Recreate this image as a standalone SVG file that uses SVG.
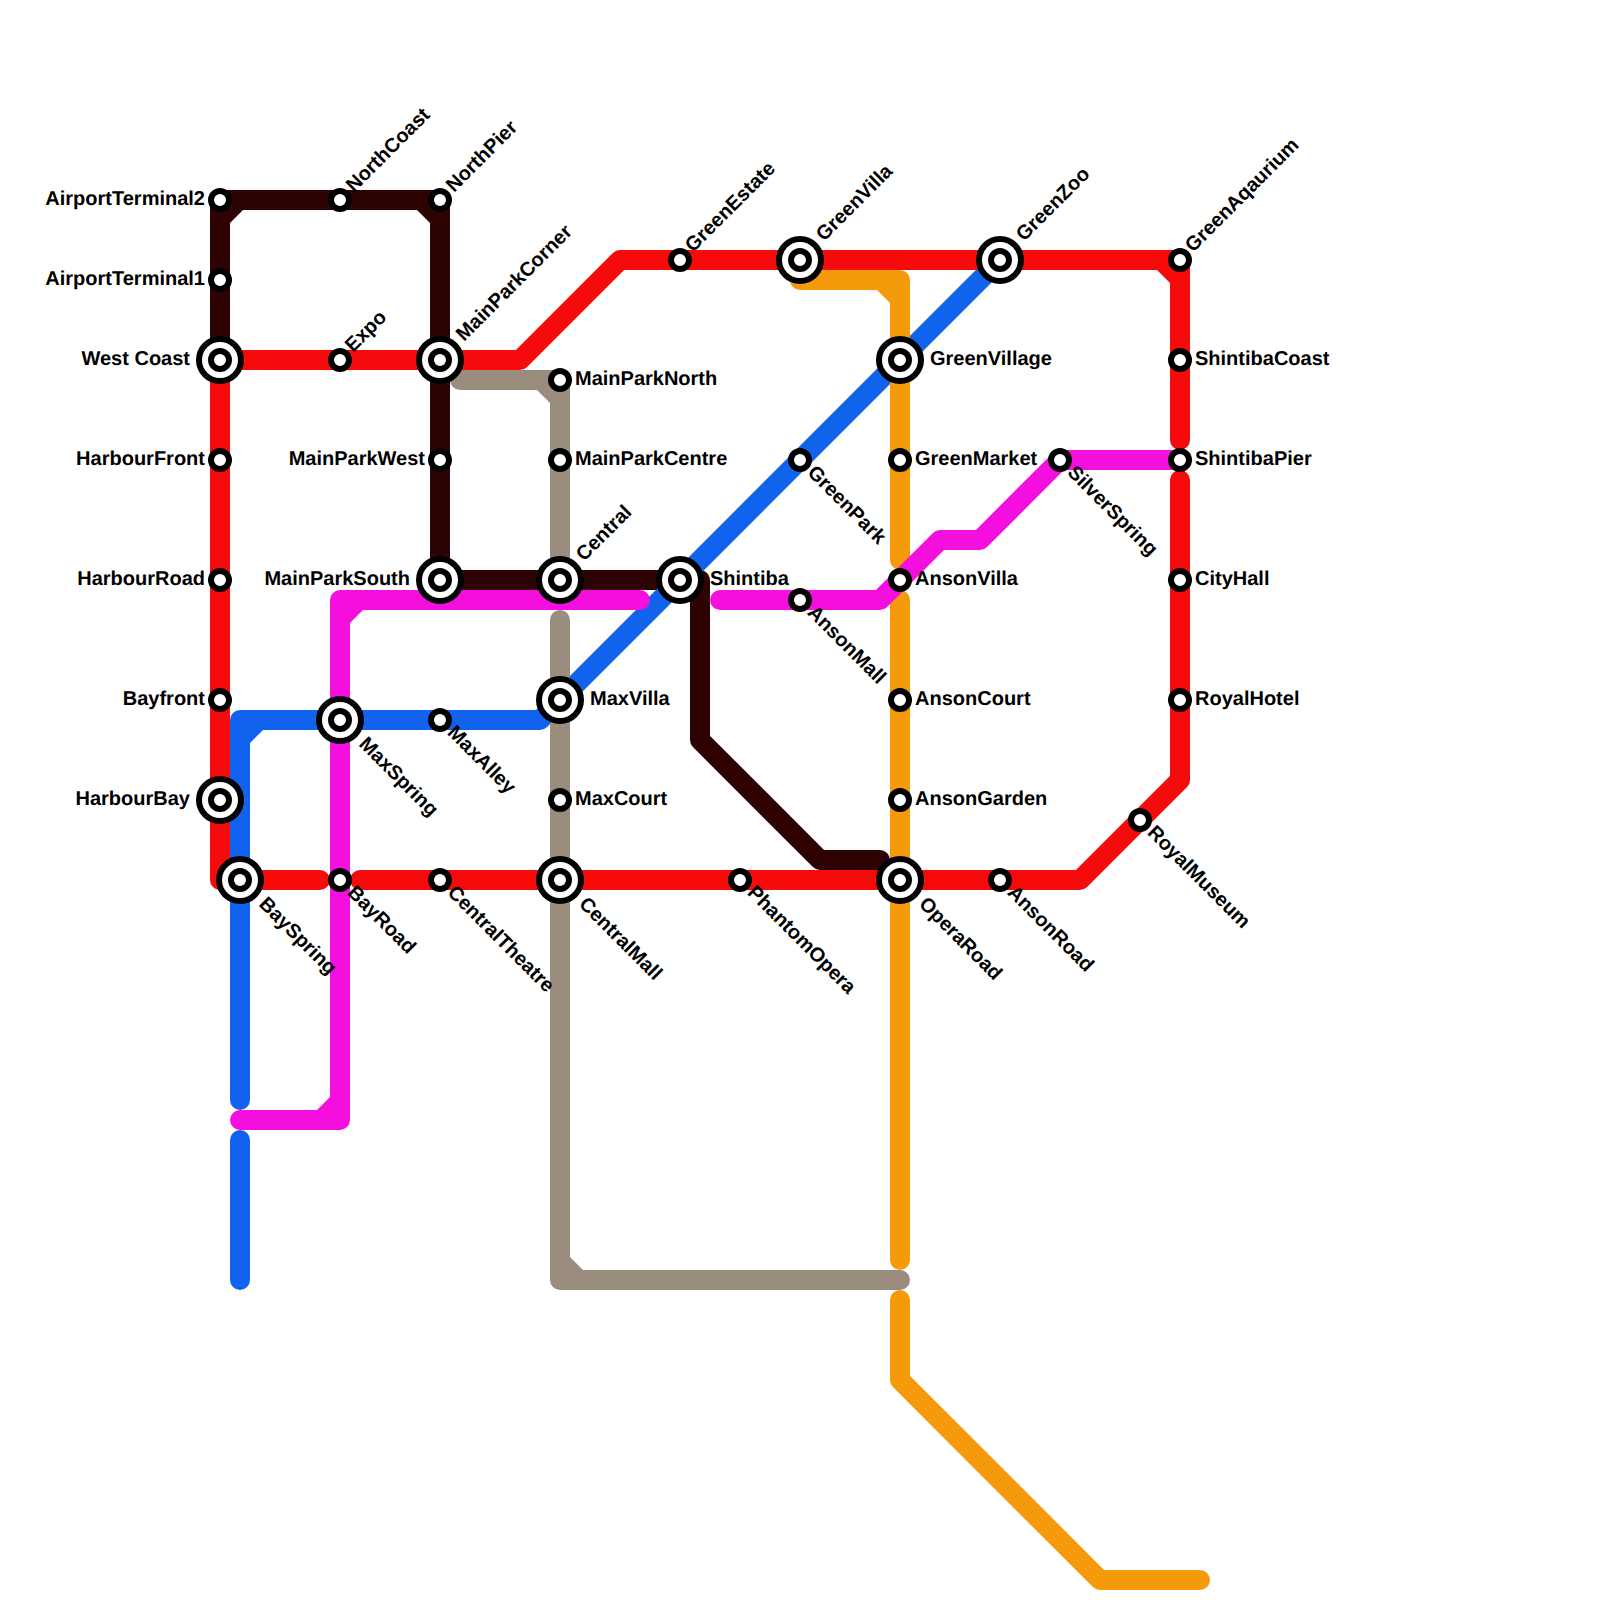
<svg xmlns="http://www.w3.org/2000/svg" width="1600" height="1600" viewBox="0 0 1600 1600">
<style>
.l{fill:none;stroke-width:20;stroke-linecap:round;stroke-linejoin:round}
.dk{stroke:#2e0303}.rd{stroke:#f50b0b}.bl{stroke:#1163ee}.mg{stroke:#f50fde}.gr{stroke:#9b8d7d}.or{stroke:#f59b0b}
.cdk{fill:#2e0303}.crd{fill:#f50b0b}.cbl{fill:#1163ee}.cmg{fill:#f50fde}.cgr{fill:#9b8d7d}.cor{fill:#f59b0b}
.o{fill:#fff;stroke:#000;stroke-width:6}
text{font-family:"Liberation Sans",Arial,sans-serif;font-weight:700;font-size:20px;fill:#000;text-rendering:geometricPrecision}
.e{text-anchor:end}
</style>
<g id="connectors">
<path class="l dk" d="M220 360V200H440V580H700V740L820 860H880"/>
<polygon class="cdk" points="230,210 243,210 230,223"/><polygon class="cdk" points="430,210 417,210 430,223"/>
<path class="l bl" d="M240 1100V720H540L1000 260"/><path class="l bl" d="M240 1140V1280"/>
<polygon class="cbl" points="250,730 263,730 250,743"/>
<path class="l or" d="M800 280H900V560"/><path class="l or" d="M900 600V1260"/><path class="l or" d="M900 1300V1380L1100 1580H1200"/>
<polygon class="cor" points="890,290 877,290 890,303"/>
<path class="l gr" d="M460 380H560V560"/><path class="l gr" d="M560 620V1280H900"/>
<polygon class="cgr" points="550,390 537,390 550,403"/><polygon class="cgr" points="570,1270 570,1257 583,1270"/>
<path class="l mg" d="M240 1120H340V600H640"/><path class="l mg" d="M720 600H880L940 540H980L1060 460H1180"/>
<polygon class="cmg" points="350,610 363,610 350,623"/><polygon class="cmg" points="330,1110 330,1097 317,1110"/>
<path class="l rd" d="M320 880H220V360H520L620 260H1180V440"/><path class="l rd" d="M1180 480V780L1080 880H360"/>
<polygon class="crd" points="1170,270 1157,270 1170,283"/>
</g>
<g id="AirportTerminal2"><circle class="o" cx="220" cy="200" r="9"/><text class="e" x="205" y="205">AirportTerminal2</text></g>
<g id="AirportTerminal1"><circle class="o" cx="220" cy="280" r="9"/><text class="e" x="205" y="285">AirportTerminal1</text></g>
<g id="WestCoast"><circle class="o" cx="220" cy="360" r="21"/><circle class="o" cx="220" cy="360" r="9"/><text class="e" x="190" y="365">West Coast</text></g>
<g id="HarbourFront"><circle class="o" cx="220" cy="460" r="9"/><text class="e" x="205" y="465">HarbourFront</text></g>
<g id="HarbourRoad"><circle class="o" cx="220" cy="580" r="9"/><text class="e" x="205" y="585">HarbourRoad</text></g>
<g id="Bayfront"><circle class="o" cx="220" cy="700" r="9"/><text class="e" x="205" y="705">Bayfront</text></g>
<g id="HarbourBay"><circle class="o" cx="220" cy="800" r="21"/><circle class="o" cx="220" cy="800" r="9"/><text class="e" x="190" y="805">HarbourBay</text></g>
<g id="BaySpring"><circle class="o" cx="240" cy="880" r="21"/><circle class="o" cx="240" cy="880" r="9"/><text transform="translate(258 905) rotate(45)">BaySpring</text></g>
<g id="NorthCoast"><circle class="o" cx="340" cy="200" r="9"/><text transform="translate(354 193) rotate(-45)">NorthCoast</text></g>
<g id="NorthPier"><circle class="o" cx="440" cy="200" r="9"/><text transform="translate(454 193) rotate(-45)">NorthPier</text></g>
<g id="Expo"><circle class="o" cx="340" cy="360" r="9"/><text transform="translate(353 353) rotate(-45)">Expo</text></g>
<g id="MainParkCorner"><circle class="o" cx="440" cy="360" r="21"/><circle class="o" cx="440" cy="360" r="9"/><text transform="translate(464 342) rotate(-45)">MainParkCorner</text></g>
<g id="MainParkWest"><circle class="o" cx="440" cy="460" r="9"/><text class="e" x="425" y="465">MainParkWest</text></g>
<g id="MainParkSouth"><circle class="o" cx="440" cy="580" r="21"/><circle class="o" cx="440" cy="580" r="9"/><text class="e" x="410" y="585">MainParkSouth</text></g>
<g id="MaxSpring"><circle class="o" cx="340" cy="720" r="21"/><circle class="o" cx="340" cy="720" r="9"/><text transform="translate(358 745) rotate(45)">MaxSpring</text></g>
<g id="MaxAlley"><circle class="o" cx="440" cy="720" r="9"/><text transform="translate(446.500 733.500) rotate(45)">MaxAlley</text></g>
<g id="BayRoad"><circle class="o" cx="340" cy="880" r="9"/><text transform="translate(346.500 893.500) rotate(45)">BayRoad</text></g>
<g id="CentralTheatre"><circle class="o" cx="440" cy="880" r="9"/><text transform="translate(446.500 893.500) rotate(45)">CentralTheatre</text></g>
<g id="MainParkNorth"><circle class="o" cx="560" cy="380" r="9"/><text x="575" y="385">MainParkNorth</text></g>
<g id="MainParkCentre"><circle class="o" cx="560" cy="460" r="9"/><text x="575" y="465">MainParkCentre</text></g>
<g id="Central"><circle class="o" cx="560" cy="580" r="21"/><circle class="o" cx="560" cy="580" r="9"/><text transform="translate(584 562) rotate(-45)">Central</text></g>
<g id="MaxVilla"><circle class="o" cx="560" cy="700" r="21"/><circle class="o" cx="560" cy="700" r="9"/><text x="590" y="705">MaxVilla</text></g>
<g id="MaxCourt"><circle class="o" cx="560" cy="800" r="9"/><text x="575" y="805">MaxCourt</text></g>
<g id="CentralMall"><circle class="o" cx="560" cy="880" r="21"/><circle class="o" cx="560" cy="880" r="9"/><text transform="translate(578 905) rotate(45)">CentralMall</text></g>
<g id="Shintiba"><circle class="o" cx="680" cy="580" r="21"/><circle class="o" cx="680" cy="580" r="9"/><text x="710" y="585">Shintiba</text></g>
<g id="GreenEstate"><circle class="o" cx="680" cy="260" r="9"/><text transform="translate(693 253) rotate(-45)">GreenEstate</text></g>
<g id="GreenVilla"><circle class="o" cx="800" cy="260" r="21"/><circle class="o" cx="800" cy="260" r="9"/><text transform="translate(824 242) rotate(-45)">GreenVilla</text></g>
<g id="GreenZoo"><circle class="o" cx="1000" cy="260" r="21"/><circle class="o" cx="1000" cy="260" r="9"/><text transform="translate(1024 242) rotate(-45)">GreenZoo</text></g>
<g id="GreenAqaurium"><circle class="o" cx="1180" cy="260" r="9"/><text transform="translate(1193 253) rotate(-45)">GreenAqaurium</text></g>
<g id="GreenVillage"><circle class="o" cx="900" cy="360" r="21"/><circle class="o" cx="900" cy="360" r="9"/><text x="930" y="365">GreenVillage</text></g>
<g id="GreenMarket"><circle class="o" cx="900" cy="460" r="9"/><text x="915" y="465">GreenMarket</text></g>
<g id="GreenPark"><circle class="o" cx="800" cy="460" r="9"/><text transform="translate(806.500 473.500) rotate(45)">GreenPark</text></g>
<g id="AnsonVilla"><circle class="o" cx="900" cy="580" r="9"/><text x="915" y="585">AnsonVilla</text></g>
<g id="AnsonMall"><circle class="o" cx="800" cy="600" r="9"/><text transform="translate(806.500 613.500) rotate(45)">AnsonMall</text></g>
<g id="AnsonCourt"><circle class="o" cx="900" cy="700" r="9"/><text x="915" y="705">AnsonCourt</text></g>
<g id="AnsonGarden"><circle class="o" cx="900" cy="800" r="9"/><text x="915" y="805">AnsonGarden</text></g>
<g id="OperaRoad"><circle class="o" cx="900" cy="880" r="21"/><circle class="o" cx="900" cy="880" r="9"/><text transform="translate(918 905) rotate(45)">OperaRoad</text></g>
<g id="PhantomOpera"><circle class="o" cx="740" cy="880" r="9"/><text transform="translate(746.500 893.500) rotate(45)">PhantomOpera</text></g>
<g id="AnsonRoad"><circle class="o" cx="1000" cy="880" r="9"/><text transform="translate(1006.500 893.500) rotate(45)">AnsonRoad</text></g>
<g id="RoyalMuseum"><circle class="o" cx="1140" cy="820" r="9"/><text transform="translate(1146.500 833.500) rotate(45)">RoyalMuseum</text></g>
<g id="SilverSpring"><circle class="o" cx="1060" cy="460" r="9"/><text transform="translate(1066.500 473.500) rotate(45)">SilverSpring</text></g>
<g id="ShintibaCoast"><circle class="o" cx="1180" cy="360" r="9"/><text x="1195" y="365">ShintibaCoast</text></g>
<g id="ShintibaPier"><circle class="o" cx="1180" cy="460" r="9"/><text x="1195" y="465">ShintibaPier</text></g>
<g id="CityHall"><circle class="o" cx="1180" cy="580" r="9"/><text x="1195" y="585">CityHall</text></g>
<g id="RoyalHotel"><circle class="o" cx="1180" cy="700" r="9"/><text x="1195" y="705">RoyalHotel</text></g>
</svg>
